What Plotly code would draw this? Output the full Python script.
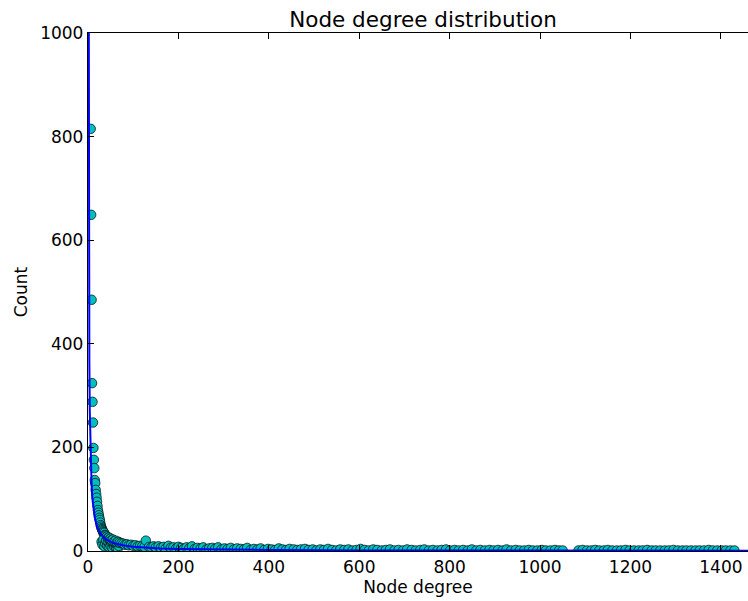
import plotly.graph_objects as go

# Observed node degrees and how many nodes have each degree
node_degree = [
    6, 7, 8, 9, 10, 11, 12, 13, 14, 15, 16, 17, 18, 19, 20, 21, 22, 23, 24, 25,
    26, 27, 28, 29, 30, 31, 32, 33, 34, 35, 36, 37, 38, 39, 40,
    30, 32, 34, 36, 38, 40, 42, 44, 46, 48, 50, 52, 54, 56, 58, 60, 62, 64, 66, 68,
    42, 44, 46, 48, 50, 52, 55, 58, 61, 64, 67, 70, 74, 78, 82, 86, 90, 95, 100,
    105, 110, 115, 120, 125, 128, 135, 140, 145,
    150, 156, 161, 167, 172, 178, 183, 189, 195, 200, 206, 212, 218, 224, 230, 236,
    242, 249, 255, 262, 268, 275, 281, 288, 295, 302, 309, 316, 323, 330, 338, 345,
    352, 360, 367, 375, 382, 390, 398, 406, 414, 422, 430, 438, 446, 455, 463, 471,
    480, 488, 497, 505, 514, 522, 531, 540, 549, 558, 567, 576, 585, 594, 603, 612,
    621, 631, 640, 650, 659, 668, 678, 687, 697, 706, 716, 725, 735, 744, 754, 763,
    773, 782, 792, 801, 811, 820, 830, 840, 849, 859, 868, 878, 888, 897, 907, 917,
    926, 936, 946, 955, 965, 975, 984, 994, 1004, 1013, 1023, 1033, 1042, 1050,
    1085, 1094, 1104, 1113, 1122, 1131, 1141, 1150, 1160, 1170, 1179, 1189, 1198,
    1208, 1218, 1227, 1237, 1247, 1256, 1266, 1276, 1285, 1295, 1305, 1315, 1324,
    1334, 1344, 1353, 1363, 1373, 1382, 1392, 1402, 1411, 1421, 1430, 1440,
]
node_count = [
    815, 649, 485, 324, 288, 248, 199, 176, 160, 137, 131, 118, 110, 103, 95, 87, 79, 74, 69, 64,
    60, 55, 50, 47, 44, 42, 40, 38, 36, 33, 35, 31, 29, 30, 27,
    18, 12, 22, 9, 15, 20, 11, 17, 8, 14, 10, 16, 6, 12, 9, 13, 7, 11, 5, 10,
    28, 25, 26, 23, 24, 21, 22, 19, 20, 17, 18, 16, 15, 14, 12, 13, 11, 12, 10,
    11, 9, 10, 9, 8, 20, 8, 7, 9,
    7, 9, 6, 8, 5, 10, 6, 7, 5, 8, 6, 4, 7, 5, 9, 4,
    6, 5, 7, 3, 5, 6, 4, 7, 3, 5, 4, 6, 3, 5, 4, 3,
    6, 2, 4, 3, 5, 2, 4, 3, 2, 5, 3, 2, 4, 3, 2, 3,
    4, 2, 3, 1, 3, 2, 4, 2, 1, 3, 2, 3, 1, 2, 4, 2,
    1, 3, 2, 1, 2, 3, 1, 2, 1, 3, 2, 1, 2, 3, 1, 2,
    1, 2, 3, 1, 2, 1, 2, 1, 3, 1, 2, 1, 2, 1, 2, 1,
    3, 1, 2, 1, 1, 2, 1, 1, 2, 1, 1, 2, 1, 1,
    1, 2, 1, 1, 2, 1, 1, 2, 1, 1, 1, 2, 1,
    1, 1, 1, 2, 1, 1, 1, 1, 1, 2, 1, 1,
    1, 1, 1, 1, 1, 2, 1, 1, 1, 1, 1, 1,
]

# Power-law fit curve sampled along the degree axis
fit_degree = [0.8, 1, 1.5, 2, 3, 4, 5, 6, 8, 10, 12, 15, 20, 25, 30, 40, 50, 60,
              80, 100, 130, 160, 200, 300, 400, 600, 800, 1000, 1200, 1460]
fit_count = [1524, 1200, 774, 568, 366, 268, 211, 173, 127, 100, 82, 64.5, 47, 37,
             30.5, 22.3, 17.5, 14.4, 10.6, 8.3, 6.25, 5.0, 3.9, 2.5, 1.9, 1.2,
             0.88, 0.69, 0.57, 0.46]

x_ticks = [0, 200, 400, 600, 800, 1000, 1200, 1400]
y_ticks = [0, 200, 400, 600, 800, 1000]

FONT = "DejaVu Sans"

fig = go.Figure()
fig.add_trace(go.Scatter(
    x=node_degree, y=node_count, mode="markers",
    marker=dict(size=9.5, color="#00BFBF", line=dict(color="black", width=0.7)),
    cliponaxis=True, showlegend=False,
))
fig.add_trace(go.Scatter(
    x=fit_degree, y=fit_count, mode="lines",
    line=dict(color="#0000FF", width=2),
    showlegend=False,
))

fig.update_layout(
    width=748, height=601,
    margin=dict(l=88, r=0, t=33, b=50),
    paper_bgcolor="white", plot_bgcolor="white",
    font=dict(family=FONT, size=17, color="black"),
    title=dict(text="Node degree distribution", x=423 / 748, xanchor="center",
               y=1 - 19 / 601, yanchor="middle", font=dict(size=21.5, family=FONT)),
)
fig.update_xaxes(
    range=[0, 1460], tickvals=x_ticks, ticks="inside", ticklen=6, tickcolor="black",
    showline=True, linecolor="black", linewidth=1.3, mirror="allticks",
    showgrid=False, zeroline=False,
    title=dict(text="Node degree", font=dict(size=17), standoff=5),
)
fig.update_yaxes(
    range=[0, 1000], tickvals=y_ticks, ticks="inside", ticklen=6, tickcolor="black",
    showline=True, linecolor="black", linewidth=1.3, mirror=False,
    showgrid=False, zeroline=False,
    title=dict(text="Count", font=dict(size=17), standoff=8),
)

fig.write_html("out.html")
